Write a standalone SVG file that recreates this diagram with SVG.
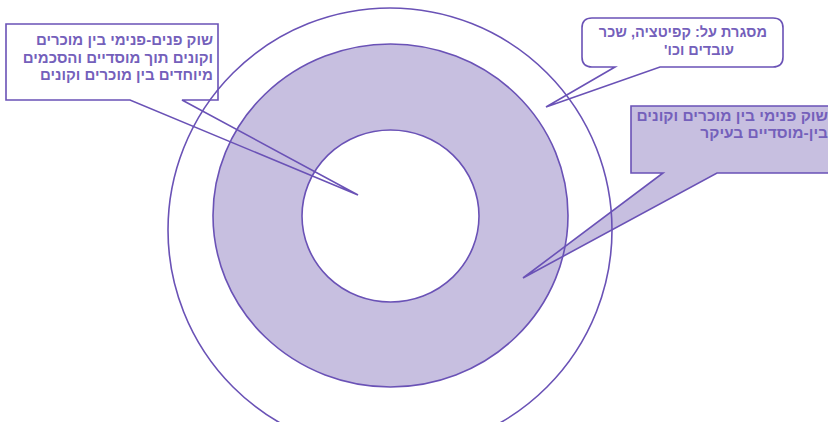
<svg xmlns="http://www.w3.org/2000/svg" width="828" height="422" viewBox="0 0 828 422">
<style>
.ln{stroke:#6a52b6;stroke-width:1.6;stroke-linejoin:miter}
.none{fill:none}
.lt{fill:#c7bfe0}
.t{font-family:"Liberation Sans","DejaVu Sans",sans-serif;font-size:15px;font-weight:bold;fill:#7460bb;direction:rtl}
</style>
<rect width="828" height="422" fill="#ffffff"/>
<g id="fills">
<path d="M213,215.5 A177.5,171.5 0 1 0 568,215.5 A177.5,171.5 0 1 0 213,215.5 Z M302,216 A88.5,86 0 1 1 479,216 A88.5,86 0 1 1 302,216 Z" class="lt" fill-rule="evenodd"/>
</g>
<g id="connectors">
<path class="ln none" d="M182,100 H218 V24 H6 V100 H130 L358,195 Z"/>
<path class="ln none" d="M660,67 H773 Q783,67 783,57 V28 Q783,18 773,18 H592 Q582,18 582,28 V57 Q582,67 592,67 H615 L546,107 Z"/>
<path class="ln lt" d="M663,173 H631 V106 H832 V173 H717 L523,278 Z"/>
</g>
<g id="rings">
<circle cx="390" cy="230" r="222" class="ln none"/>
<ellipse cx="390.5" cy="215.5" rx="177.5" ry="171.5" class="ln none"/>
<ellipse cx="390.5" cy="216" rx="88.5" ry="86" class="ln none"/>
</g>
<g id="label-inner">
<text class="t" x="213" y="45" text-anchor="start">שוק פנים-פנימי בין מוכרים</text>
<text class="t" x="213" y="63" text-anchor="start">וקונים תוך מוסדיים והסכמים</text>
<text class="t" x="213" y="80" text-anchor="start">מיוחדים בין מוכרים וקונים</text>
</g>
<g id="label-outer">
<text class="t" x="767" y="37" text-anchor="start" style="font-size:14.5px">מסגרת על: קפיטציה, שכר</text>
<text class="t" x="699" y="55" text-anchor="middle" style="font-size:14.5px">עובדים וכו'</text>
</g>
<g id="label-middle">
<text class="t" x="828" y="121" text-anchor="start" style="font-size:15.5px">שוק פנימי בין מוכרים וקונים</text>
<text class="t" x="828" y="138" text-anchor="start" style="font-size:15.5px">בין-מוסדיים בעיקר</text>
</g>
</svg>
